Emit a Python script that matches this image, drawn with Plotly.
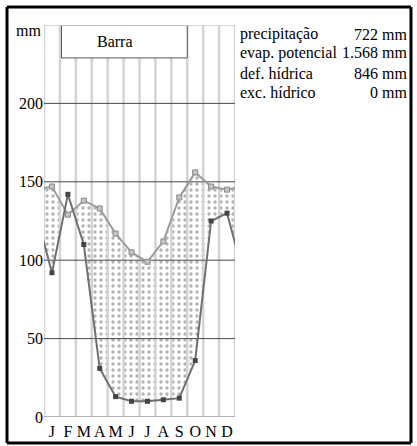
import plotly.graph_objects as go

# ---- data ----
months = ["J", "F", "M", "A", "M", "J", "J", "A", "S", "O", "N", "D"]
precip = [92, 142, 110, 31, 13, 10, 10, 11, 12, 36, 125, 130]
evap = [147, 129, 138, 133, 117, 105, 99, 112, 140, 156, 147, 145]
y_ticks = [0, 50, 100, 150, 200]
y_max = 250
station = "Barra"
summary_labels = ["precipitação", "evap. potencial", "def. hídrica", "exc. hídrico"]
summary_values = ["722 mm", "1.568 mm", "846 mm", "0 mm"]

FONT = "Liberation Serif, Tinos, Times New Roman, DejaVu Serif, serif"
FS = 16

n = len(months)
xc = [i + 0.5 for i in range(n)]
# wrap the annual cycle so lines continue past the plot edges
xw = [-0.5] + xc + [n + 0.5]
pw = [precip[-1]] + precip + [precip[0]]
ew = [evap[-1]] + evap + [evap[0]]

fig = go.Figure()

# deficit area: pattern under EP, then white under precipitation
fig.add_trace(go.Scatter(
    x=xw, y=ew, mode="lines", line=dict(width=0), fill="tozeroy",
    fillcolor="rgba(255,255,255,0)",
    fillpattern=dict(shape=".", fgcolor="#666666", bgcolor="rgba(255,255,255,0)",
                     size=6, solidity=0.25),
    hoverinfo="skip", showlegend=False))
fig.add_trace(go.Scatter(
    x=xw, y=pw, mode="lines", line=dict(width=0), fill="tozeroy",
    fillcolor="white", hoverinfo="skip", showlegend=False))

# vertical month-boundary grid lines
vx, vy = [], []
for b in range(n + 1):
    vx += [b, b, None]
    vy += [0, y_max, None]
fig.add_trace(go.Scatter(x=vx, y=vy, mode="lines",
                         line=dict(color="#d4d4d4", width=2.5),
                         hoverinfo="skip", showlegend=False))

# horizontal grid lines
hx, hy = [], []
for t in y_ticks[1:]:
    hx += [0, n, None]
    hy += [t, t, None]
fig.add_trace(go.Scatter(x=hx, y=hy, mode="lines",
                         line=dict(color="#4a4a4a", width=1),
                         hoverinfo="skip", showlegend=False))
fig.add_trace(go.Scatter(x=[0, n], y=[0, 0], mode="lines",
                         line=dict(color="#9a9a9a", width=1.5),
                         hoverinfo="skip", showlegend=False))

# potential evapotranspiration
fig.add_trace(go.Scatter(
    x=xw, y=ew, mode="lines+markers",
    line=dict(color="#9c9c9c", width=2),
    marker=dict(symbol="square", size=5, color="#c4c4c4",
                line=dict(color="#8a8a8a", width=1)),
    showlegend=False))
# precipitation
fig.add_trace(go.Scatter(
    x=xw, y=pw, mode="lines+markers",
    line=dict(color="#707070", width=2),
    marker=dict(symbol="square", size=5, color="#454545"),
    showlegend=False))

# station box
fig.add_shape(type="rect", xref="x", yref="y", x0=1.1, x1=9, y0=229, y1=y_max,
              fillcolor="white", line=dict(color="#555555", width=1), layer="above")
fig.add_annotation(x=4.45, y=239.5, xref="x", yref="y", text=station,
                   showarrow=False, font=dict(family=FONT, size=FS, color="black"))
# plot top border
fig.add_shape(type="line", xref="x", yref="y", x0=0, x1=n, y0=y_max, y1=y_max,
              line=dict(color="#c8c8c8", width=1.5), layer="above")

# outer frame (four lines)
L, T, W, H = 44, 25, 191, 392
def px(v):
    return (v - L) / W
def py(v):
    return (T + H - v) / H
fx0, fx1, fy0, fy1 = px(7), px(411), py(443), py(7)
for (a, b, c, d) in [(fx0, fy1, fx1, fy1), (fx0, fy0, fx1, fy0),
                     (fx0, fy0, fx0, fy1), (fx1, fy0, fx1, fy1)]:
    fig.add_shape(type="line", xref="paper", yref="paper", x0=a, y0=b, x1=c, y1=d,
                  line=dict(color="black", width=3), layer="above")

# "mm" unit label
fig.add_annotation(x=px(43), y=py(31), xref="paper", yref="paper", text="mm",
                   showarrow=False, xanchor="right", yanchor="middle",
                   font=dict(family=FONT, size=FS, color="black"))

# summary text
rows_y = [34, 53, 73, 92]
for lab, val, ry in zip(summary_labels, summary_values, rows_y):
    fig.add_annotation(x=px(238), y=py(ry), xref="paper", yref="paper", text=lab,
                       showarrow=False, xanchor="left", yanchor="middle",
                       font=dict(family=FONT, size=FS, color="black"))
    fig.add_annotation(x=px(409), y=py(ry), xref="paper", yref="paper", text=val,
                       showarrow=False, xanchor="right", yanchor="middle",
                       font=dict(family=FONT, size=FS, color="black"))

fig.update_layout(
    width=417, height=446,
    margin=dict(l=L, r=417 - L - W, t=T, b=446 - T - H),
    paper_bgcolor="white", plot_bgcolor="white",
    font=dict(family=FONT, size=FS, color="black"),
    xaxis=dict(range=[0, n], tickvals=xc, ticktext=months, showgrid=False,
               zeroline=False, showline=False, ticks="", fixedrange=True,
               ticklabelstandoff=3, automargin=False,
               tickfont=dict(family=FONT, size=FS, color="black")),
    yaxis=dict(range=[0, y_max], tickvals=y_ticks, showgrid=False,
               zeroline=False, showline=False, ticks="", fixedrange=True,
               automargin=False,
               tickfont=dict(family=FONT, size=FS, color="black")),
)

fig.write_html("out.html", config={"displayModeBar": False},
               post_script="document.body.style.margin='0';document.body.style.padding='0';")
